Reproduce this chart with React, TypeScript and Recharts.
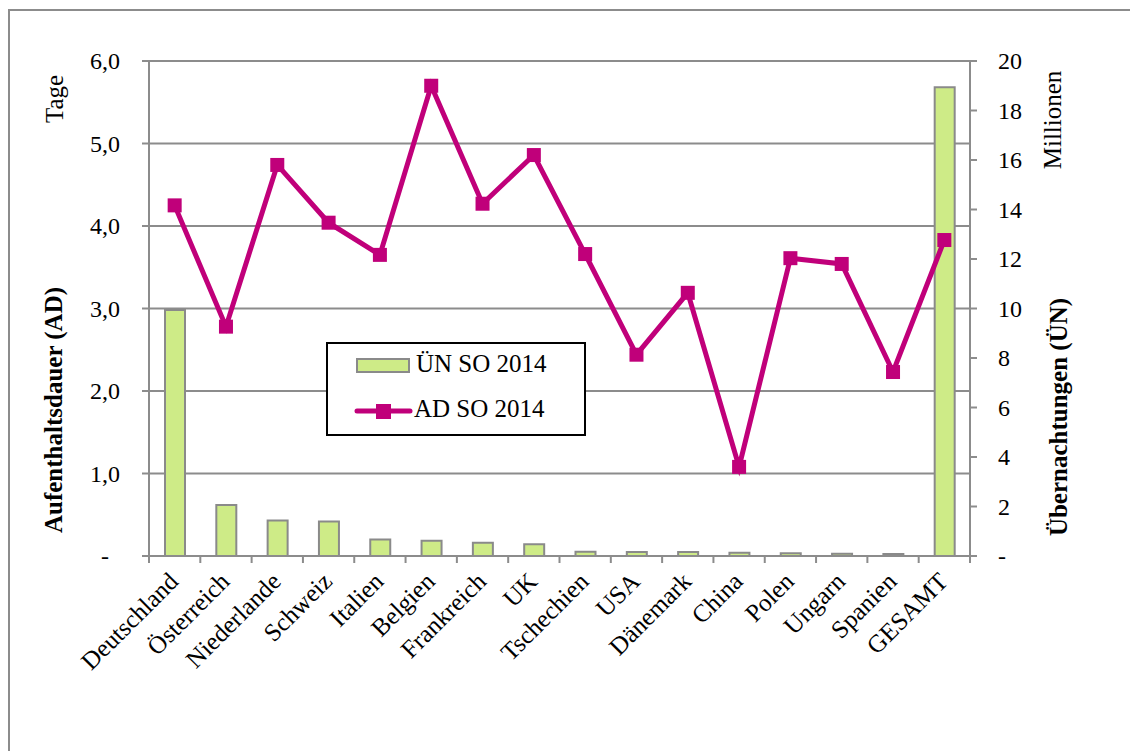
import React from 'react';
import { ComposedChart, Bar, Line, XAxis, YAxis, CartesianGrid, Legend } from 'recharts';

const categories = [
  'Deutschland', 'Österreich', 'Niederlande', 'Schweiz', 'Italien', 'Belgien', 'Frankreich', 'UK',
  'Tschechien', 'USA', 'Dänemark', 'China', 'Polen', 'Ungarn', 'Spanien', 'GESAMT',
];
// Übernachtungen (Millionen), right axis
const unValues = [9.94, 2.06, 1.43, 1.39, 0.67, 0.62, 0.54, 0.47, 0.17, 0.16, 0.16, 0.13, 0.11, 0.09, 0.08, 18.94];
// Aufenthaltsdauer (Tage), left axis
const adValues = [4.25, 2.78, 4.74, 4.04, 3.65, 5.7, 4.27, 4.86, 3.66, 2.44, 3.19, 1.08, 3.61, 3.54, 2.23, 3.83];

const leftTicks = [0, 1, 2, 3, 4, 5, 6];
const rightTicks = [0, 2, 4, 6, 8, 10, 12, 14, 16, 18, 20];
const seriesNames = { un: 'ÜN SO 2014', ad: 'AD SO 2014' };
const axisTitles = {
  leftUnit: 'Tage',
  left: 'Aufenthaltsdauer (AD)',
  rightUnit: 'Millionen',
  right: 'Übernachtungen (ÜN)',
};

const data = categories.map((name, i) => ({ name, un: unValues[i], ad: adValues[i] }));

const FONT = "'Liberation Serif', 'Times New Roman', serif";
const GREEN = '#CEEB87';
const MAGENTA = '#C0007A';
const GRID = '#8C8C8C';
const BAR_STROKE = '#8A8A8A';

const fmtLeft = (v: number) => (v === 0 ? '-' : v.toFixed(1).replace('.', ','));
const fmtRight = (v: number) => (v === 0 ? '-' : String(v));

const LeftTick = (props: any) => {
  const { x, y, payload } = props;
  const v = payload.value;
  return (
    <text x={v === 0 ? x - 11 : x} y={y} dy="0.35em" textAnchor="end" fontFamily={FONT} fontSize={24} fill="#000">
      {fmtLeft(v)}
    </text>
  );
};

const RightTick = (props: any) => {
  const { x, y, payload } = props;
  return (
    <text x={x} y={y} dy="0.35em" textAnchor="start" fontFamily={FONT} fontSize={24} fill="#000">
      {fmtRight(payload.value)}
    </text>
  );
};

const CategoryTick = (props: any) => {
  const { x, y, payload, index, visibleTicksCount } = props;
  const half = payload && payload.offset ? payload.offset : 25.66;
  const isLast = index === (visibleTicksCount ? visibleTicksCount - 1 : categories.length - 1);
  return (
    <g>
      <line x1={x - half} x2={x - half} y1={y} y2={y + 7} stroke={GRID} strokeWidth={2} />
      {isLast && <line x1={x + half} x2={x + half} y1={y} y2={y + 7} stroke={GRID} strokeWidth={2} />}
      <text
        transform={`translate(${x + 5},${y + 27}) rotate(-45)`}
        textAnchor="end"
        fontFamily={FONT}
        fontSize={25}
        fill="#000"
      >
        {payload.value}
      </text>
    </g>
  );
};

const SquareDot = (p: any) => (
  <rect key={`dot-${p.index}`} x={p.cx - 7} y={p.cy - 7} width={14} height={14} fill={MAGENTA} />
);

const leftTitles = () => (
  <g>
    <text transform="translate(54,99) rotate(-90)" textAnchor="middle" dominantBaseline="central" fontFamily={FONT} fontSize={25} fill="#000">
      {axisTitles.leftUnit}
    </text>
    <text transform="translate(53,410) rotate(-90)" textAnchor="middle" dominantBaseline="central" fontFamily={FONT} fontSize={25} fontWeight="bold" fill="#000">
      {axisTitles.left}
    </text>
  </g>
);

const rightTitles = () => (
  <g>
    <text transform="translate(1052,120) rotate(-90)" textAnchor="middle" dominantBaseline="central" fontFamily={FONT} fontSize={25} fill="#000">
      {axisTitles.rightUnit}
    </text>
    <text transform="translate(1058,417) rotate(-90)" textAnchor="middle" dominantBaseline="central" fontFamily={FONT} fontSize={25} fontWeight="bold" fill="#000">
      {axisTitles.right}
    </text>
  </g>
);

const renderLegend = () => (
  <div
    style={{
      width: 260,
      height: 94,
      boxSizing: 'border-box',
      border: '2px solid #000',
      background: '#fff',
      position: 'relative',
    }}
  >
    <svg width={256} height={90} style={{ position: 'absolute', left: 0, top: 0 }}>
      <rect x={29} y={15} width={52} height={13} fill={GREEN} stroke={BAR_STROKE} strokeWidth={2} />
      <text x={88} y={28} fontFamily={FONT} fontSize={25} fill="#000">
        {seriesNames.un}
      </text>
      <line x1={29} x2={82} y1={67} y2={67} stroke={MAGENTA} strokeWidth={5} strokeLinecap="round" />
      <rect x={48} y={60} width={15} height={15} fill={MAGENTA} />
      <text x={86} y={73} fontFamily={FONT} fontSize={25} fill="#000">
        {seriesNames.ad}
      </text>
    </svg>
  </div>
);

export default function App() {
  return (
    <div
      style={{
        position: 'absolute',
        left: 0,
        top: 0,
        width: 1130,
        height: 751,
        overflow: 'hidden',
        background: '#fff',
      }}
    >
      <div
        style={{
          position: 'absolute',
          left: 8,
          top: 9,
          width: 1200,
          height: 800,
          borderLeft: `2px solid ${GRID}`,
          borderTop: `2px solid ${GRID}`,
        }}
      />
      <div style={{ position: 'absolute', left: 0, top: 0 }}>
        <ComposedChart
          width={1130}
          height={751}
          data={data}
          margin={{ top: 61, right: 0, bottom: 0, left: 0 }}
          barCategoryGap={0}
        >
          <CartesianGrid vertical={false} stroke={GRID} strokeWidth={2} yAxisId="left" />
          <XAxis
            dataKey="name"
            interval={0}
            height={195}
            tickLine={false}
            tickSize={0}
            tickMargin={0}
            axisLine={{ stroke: GRID, strokeWidth: 2 }}
            tick={<CategoryTick />}
          />
          <YAxis
            yAxisId="left"
            orientation="left"
            width={149}
            domain={[0, 6]}
            ticks={leftTicks}
            interval={0}
            tickSize={7}
            tickMargin={22}
            tickLine={{ stroke: GRID, strokeWidth: 2 }}
            axisLine={{ stroke: GRID, strokeWidth: 2 }}
            tick={<LeftTick />}
            label={leftTitles}
          />
          <YAxis
            yAxisId="right"
            orientation="right"
            width={160}
            domain={[0, 20]}
            ticks={rightTicks}
            interval={0}
            tickSize={7}
            tickMargin={21}
            tickLine={{ stroke: GRID, strokeWidth: 2 }}
            axisLine={{ stroke: GRID, strokeWidth: 2 }}
            tick={<RightTick />}
            label={rightTitles}
          />
          <Bar
            yAxisId="right"
            dataKey="un"
            name={seriesNames.un}
            barSize={20}
            fill={GREEN}
            stroke={BAR_STROKE}
            strokeWidth={2}
            isAnimationActive={false}
          />
          <Line
            yAxisId="left"
            dataKey="ad"
            name={seriesNames.ad}
            stroke={MAGENTA}
            strokeWidth={5}
            dot={SquareDot}
            activeDot={false}
            isAnimationActive={false}
          />
          <Legend
            verticalAlign="middle"
            align="center"
            layout="horizontal"
            wrapperStyle={{ left: 326, top: 342, width: 260, height: 94 }}
            content={renderLegend}
          />
        </ComposedChart>
      </div>
    </div>
  );
}
